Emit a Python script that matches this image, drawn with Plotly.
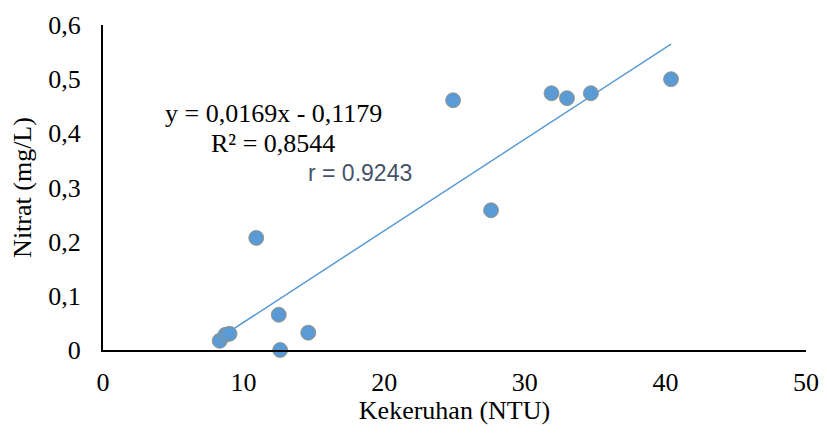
import plotly.graph_objects as go

turbidity = [8.3, 8.7, 9.0, 10.9, 12.5, 12.6, 14.6, 24.9, 27.6, 31.9, 33.0, 34.7, 40.4]
nitrate = [0.017, 0.028, 0.030, 0.207, 0.065, 0.0, 0.032, 0.461, 0.258, 0.474, 0.465, 0.474, 0.500]
slope = 0.0169
intercept = -0.1179
x_ticks = [0, 10, 20, 30, 40, 50]
y_ticks = [0, 0.1, 0.2, 0.3, 0.4, 0.5, 0.6]
y_tick_text = ["0", "0,1", "0,2", "0,3", "0,4", "0,5", "0,6"]

xmin, xmax = min(turbidity), max(turbidity)
trend_x = [xmin, xmax]
trend_y = [slope * v + intercept for v in trend_x]

fig = go.Figure()
fig.add_trace(go.Scatter(x=trend_x, y=trend_y, mode="lines",
                         line=dict(color="#5B9BD5", width=1.5), hoverinfo="skip",
                         cliponaxis=False))
fig.add_trace(go.Scatter(x=turbidity, y=nitrate, mode="markers", cliponaxis=False,
                         marker=dict(size=15, color="#5B9BD5",
                                     line=dict(color="#A08C70", width=0.8))))

serif = "Liberation Serif, Times New Roman, serif"
fs = 26
fig.update_layout(
    width=819, height=417,
    margin=dict(l=95, r=21, t=17, b=75),
    plot_bgcolor="white", paper_bgcolor="white",
    showlegend=False,
    font=dict(family=serif, size=fs, color="black"),
    xaxis=dict(range=[0, 50], tickvals=x_ticks, ticktext=[str(v) for v in x_ticks],
               showgrid=False, zeroline=False, showline=True, linecolor="black", linewidth=2,
               ticks="", automargin=False, ticklabelstandoff=8, ticklabeloverflow="allow",
               title=dict(text="Kekeruhan (NTU)", font=dict(size=fs), standoff=13),
               tickfont=dict(size=fs)),
    yaxis=dict(range=[0, 0.6], tickvals=y_ticks, ticktext=y_tick_text,
               showgrid=False, zeroline=False, showline=True, linecolor="black", linewidth=2,
               ticks="", automargin=False, ticklabelstandoff=15, ticklabeloverflow="allow",
               title=dict(text="Nitrat (mg/L)", font=dict(size=fs), standoff=13),
               tickfont=dict(size=fs)),
    annotations=[
        dict(x=12.15, y=0.4375, xref="x", yref="y", text="y = 0,0169x - 0,1179",
             showarrow=False, font=dict(family=serif, size=fs, color="black")),
        dict(x=12.08, y=0.382, xref="x", yref="y", text="R² = 0,8544",
             showarrow=False, font=dict(family=serif, size=fs, color="black")),
        dict(x=18.29, y=0.327, xref="x", yref="y", text="r = 0.9243",
             showarrow=False, font=dict(family="Liberation Sans, Arial, sans-serif", size=23, color="#44546A")),
    ],
)

fig.write_html("out.html")
